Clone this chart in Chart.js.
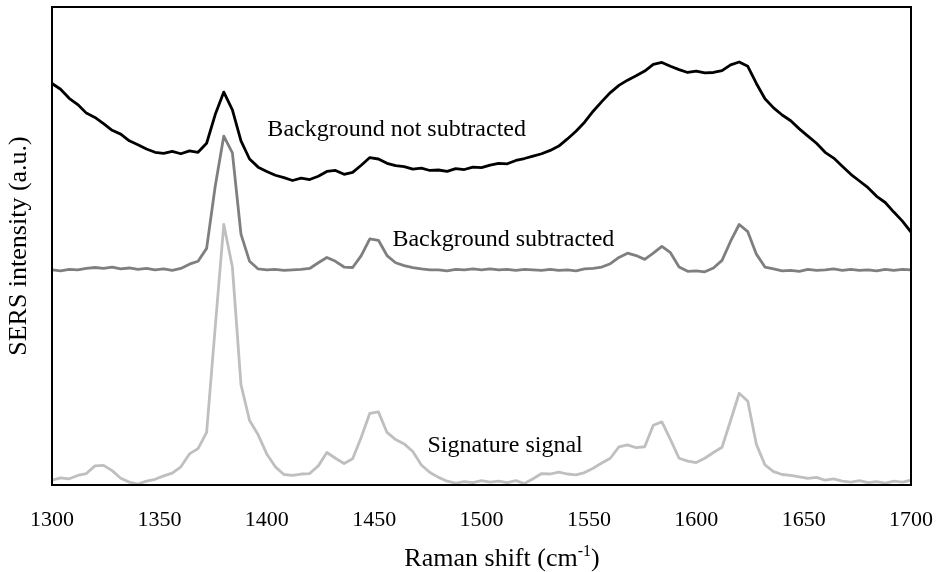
<!DOCTYPE html>
<html>
<head>
<meta charset="utf-8">
<script src="https://cdn.jsdelivr.net/npm/chart.js@4.4.1/dist/chart.umd.min.js"></script>
<style>
  html, body { margin: 0; padding: 0; background: #fff; }
  #wrap { width: 938px; height: 572px; }
</style>
</head>
<body>
<div id="wrap"><canvas id="spectra"></canvas></div>
<script>
// Raman shift (cm-1), one reading every 4 cm-1
const shift = [
  1300, 1304, 1308, 1312, 1316, 1320, 1324, 1328, 1332, 1336,
  1340, 1344, 1348, 1352, 1356, 1360, 1364, 1368, 1372, 1376,
  1380, 1384, 1388, 1392, 1396, 1400, 1404, 1408, 1412, 1416,
  1420, 1424, 1428, 1432, 1436, 1440, 1444, 1448, 1452, 1456,
  1460, 1464, 1468, 1472, 1476, 1480, 1484, 1488, 1492, 1496,
  1500, 1504, 1508, 1512, 1516, 1520, 1524, 1528, 1532, 1536,
  1540, 1544, 1548, 1552, 1556, 1560, 1564, 1568, 1572, 1576,
  1580, 1584, 1588, 1592, 1596, 1600, 1604, 1608, 1612, 1616,
  1620, 1624, 1628, 1632, 1636, 1640, 1644, 1648, 1652, 1656,
  1660, 1664, 1668, 1672, 1676, 1680, 1684, 1688, 1692, 1696,
  1700
];

// raw spectrum, offset to sit at the top
const rawSpectrum = [
  84.0, 82.8, 80.9, 79.6, 77.8, 76.9, 75.6, 74.2, 73.4, 72.0,
  71.2, 70.3, 69.6, 69.4, 69.8, 69.3, 69.9, 69.6, 71.5, 77.5,
  82.2, 78.5, 72.0, 68.2, 66.5, 65.6, 64.8, 64.3, 63.7, 64.2,
  63.9, 64.6, 65.6, 65.8, 65.0, 65.4, 66.9, 68.5, 68.2, 67.3,
  66.8, 66.6, 66.1, 66.3, 65.8, 65.9, 65.6, 66.2, 66.0, 66.5,
  66.4, 66.9, 67.3, 67.2, 67.9, 68.3, 68.8, 69.3, 70.0, 70.9,
  72.4, 74.0, 75.9, 78.2, 80.2, 82.1, 83.6, 84.7, 85.6, 86.6,
  88.0, 88.4, 87.6, 86.9, 86.3, 86.6, 86.2, 86.3, 86.7, 87.9,
  88.5, 87.6, 84.0, 80.8, 78.9, 77.4, 76.2, 74.5, 73.0, 71.5,
  69.6, 68.4, 66.7, 65.0, 63.6, 62.2, 60.4, 59.1, 57.1, 55.2,
  52.9
];

// after background removal
const corrected = [
  45.0, 44.8, 45.1, 45.0, 45.3, 45.5, 45.3, 45.6, 45.2, 45.4,
  45.1, 45.3, 45.0, 45.2, 44.9, 45.3, 46.2, 46.8, 49.5, 62.5,
  73.0, 69.5, 52.5, 46.8, 45.2, 45.0, 45.1, 44.9, 45.0, 45.1,
  45.3, 46.5, 47.6, 46.8, 45.6, 45.5, 48.0, 51.5, 51.2, 48.0,
  46.5, 45.9, 45.5, 45.2, 45.0, 45.0, 44.8, 45.1, 45.0, 45.2,
  45.0, 45.2, 45.0, 45.1, 44.9, 45.1, 45.0, 44.9, 45.1, 44.9,
  45.0, 44.8, 45.2, 45.3, 45.6, 46.3, 47.6, 48.5, 48.0, 47.2,
  48.5, 49.9, 48.6, 45.6, 44.7, 44.8, 44.6, 45.4, 47.0, 51.0,
  54.5, 53.0, 48.3, 45.6, 45.2, 44.8, 44.9, 44.7, 45.1, 44.9,
  45.0, 45.2, 44.9, 45.1, 44.9, 45.0, 44.8, 45.1, 44.9, 45.1,
  45.0
];

// signature signal
const signature = [
  1.0, 1.5, 1.3, 2.0, 2.4, 4.0, 4.1, 3.0, 1.4, 0.6,
  0.2, 0.8, 1.2, 1.9, 2.5, 3.8, 6.5, 7.6, 11.0, 33.0,
  54.5, 45.6, 21.0, 13.5, 10.5, 6.5, 3.8, 2.2, 2.0, 2.3,
  2.4, 4.0, 6.8, 5.6, 4.5, 5.5, 10.0, 15.0, 15.3, 11.0,
  9.5, 8.6, 7.0, 4.2, 2.6, 1.6, 0.8, 0.4, 0.7, 0.5,
  0.9, 0.6, 0.8, 0.5, 0.9, 0.3, 1.3, 2.4, 2.3, 2.7,
  2.3, 2.1, 2.6, 3.5, 4.6, 5.6, 8.0, 8.4, 7.8, 8.0,
  12.5, 13.2, 9.5, 5.6, 5.0, 4.7, 5.6, 6.8, 7.9, 13.5,
  19.2, 17.5, 8.5, 4.2, 2.8, 2.2, 2.0, 1.7, 1.4, 1.6,
  1.0, 1.3, 0.8, 0.6, 0.9, 0.5, 0.7, 0.4, 0.8, 0.6,
  1.0
];

const tickValues = [1300, 1350, 1400, 1450, 1500, 1550, 1600, 1650, 1700];

const seriesNames = ['Background not subtracted', 'Background subtracted', 'Signature signal'];

const SERIF = "'Liberation Serif', 'Times New Roman', serif";

function points(values) {
  return shift.map((x, i) => ({ x: x, y: values[i] }));
}

// curve labels, placed in data coordinates
const curveLabels = [
  { text: seriesNames[0], x: 1460.5, y: 74.3 },
  { text: seriesNames[1], x: 1510.2, y: 51.3 },
  { text: seriesNames[2], x: 1511.0, y: 8.3 }
];

const framePlugin = {
  id: 'frame',
  afterDatasetsDraw(chart) {
    const { ctx, chartArea: a, scales } = chart;
    ctx.save();
    ctx.strokeStyle = '#000';
    ctx.lineWidth = 2;
    ctx.strokeRect(a.left, a.top, a.right - a.left, a.bottom - a.top);

    ctx.fillStyle = '#000';
    ctx.font = '24px ' + SERIF;
    ctx.textAlign = 'center';
    ctx.textBaseline = 'middle';
    curveLabels.forEach(l => {
      ctx.fillText(l.text, scales.x.getPixelForValue(l.x), scales.y.getPixelForValue(l.y));
    });

    // x axis title with superscript
    const main = 'Raman shift (cm';
    const sup = '-1';
    const close = ')';
    ctx.font = '26px ' + SERIF;
    const w1 = ctx.measureText(main).width;
    const w3 = ctx.measureText(close).width;
    ctx.font = '16px ' + SERIF;
    const w2 = ctx.measureText(sup).width;
    const cx = 502, cy = 557;
    let x0 = cx - (w1 + w2 + w3) / 2;
    ctx.textAlign = 'left';
    ctx.textBaseline = 'alphabetic';
    const base = cy + 9;
    ctx.font = '26px ' + SERIF;
    ctx.fillText(main, x0, base);
    ctx.font = '16px ' + SERIF;
    ctx.fillText(sup, x0 + w1, base - 10);
    ctx.font = '26px ' + SERIF;
    ctx.fillText(close, x0 + w1 + w2, base);
    ctx.restore();
  }
};

new Chart(document.getElementById('spectra'), {
  type: 'line',
  data: {
    datasets: [
      { label: seriesNames[0], data: points(rawSpectrum), borderColor: '#000000', borderWidth: 2.8 },
      { label: seriesNames[1], data: points(corrected), borderColor: '#7f7f7f', borderWidth: 2.8 },
      { label: seriesNames[2], data: points(signature), borderColor: '#bfbfbf', borderWidth: 2.8 }
    ]
  },
  options: {
    responsive: true,
    maintainAspectRatio: false,
    animation: false,
    layout: { padding: { top: 7, right: 27, bottom: 0, left: 0 } },
    elements: {
      point: { radius: 0 },
      line: { tension: 0, fill: false, borderJoinStyle: 'round' }
    },
    plugins: {
      legend: { display: false },
      tooltip: { enabled: false }
    },
    scales: {
      x: {
        type: 'linear',
        min: 1300,
        max: 1700,
        afterBuildTicks(scale) {
          scale.ticks = tickValues.map(v => ({ value: v }));
        },
        afterFit(scale) {
          scale.height = 87;
          scale.paddingLeft = 0;
          scale.paddingRight = 0;
        },
        grid: { display: false, drawTicks: false },
        border: { display: false },
        ticks: {
          color: '#000',
          padding: 22,
          maxRotation: 0,
          font: { family: SERIF, size: 22 },
          callback: v => String(v)
        }
      },
      y: {
        min: 0,
        max: 100,
        afterFit(scale) { scale.width = 52; },
        grid: { display: false, drawTicks: false },
        border: { display: false },
        ticks: { display: false },
        title: {
          display: true,
          text: 'SERS intensity (a.u.)',
          color: '#000',
          padding: { top: 4, bottom: 0 },
          font: { family: SERIF, size: 26 }
        }
      }
    }
  },
  plugins: [framePlugin]
});
</script>
</body>
</html>
